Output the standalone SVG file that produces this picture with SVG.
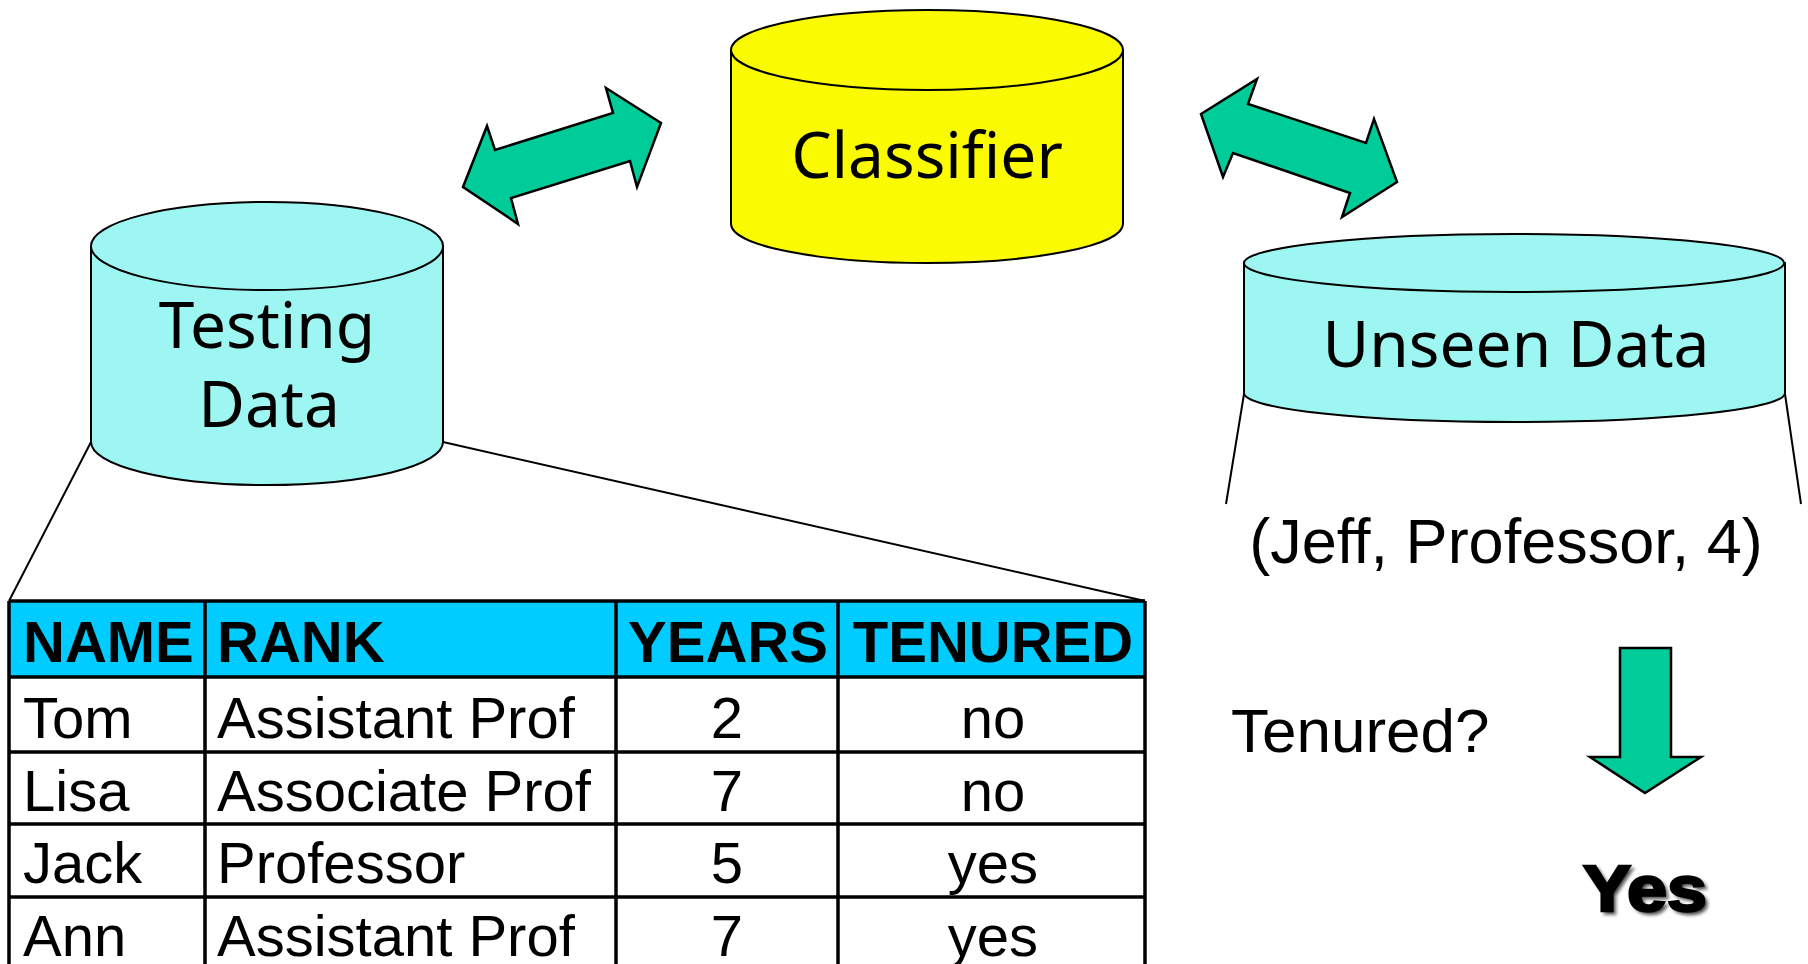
<svg xmlns="http://www.w3.org/2000/svg" width="1808" height="964" viewBox="0 0 1808 964">
  <style>
    .cyl-side { stroke: #000; stroke-width: 2; }
    .cyl-top { stroke: #000; stroke-width: 2; }
    .aqua { fill: #9EF6F2; }
    .yellow { fill: #FAFA00; }
    .label { font-family: "Noto Sans", "DejaVu Sans", sans-serif; font-size: 64px; fill: #000; text-anchor: middle; }
    .arrow { fill: #00CC99; stroke: #000; stroke-width: 2.5; stroke-linejoin: miter; }
    .thin { stroke: #000; stroke-width: 2; fill: none; }
    .grid { stroke: #000; stroke-width: 3.5; fill: none; }
    .th { font-family: "Liberation Sans", Arial, sans-serif; font-weight: bold; font-size: 58px; fill: #000; }
    .td { font-family: "Liberation Sans", Arial, sans-serif; font-size: 58px; fill: #000; }
    .mid { text-anchor: middle; }
    .plain { font-family: "Liberation Sans", Arial, sans-serif; fill: #000; }
  </style>
  <defs>
    <filter id="soft" x="-10%" y="-10%" width="130%" height="130%">
      <feGaussianBlur stdDeviation="1.5"/>
    </filter>
  </defs>

  <rect width="1808" height="964" fill="#fff"/>

  <!-- connectors: double arrows, zoom-in lines, result arrow -->
  <g id="connectors">
    <polygon class="arrow" points="463,187 487,126 495,150 613,113 606,88 661,123 637,187 630,161 511,198 518,224"/>
    <polygon class="arrow" points="1201,114 1257,79 1248,104 1366,143 1374,119 1397,182 1342,217 1350,193 1233,153 1223,177"/>
    <line class="thin" x1="91" y1="442" x2="9" y2="601"/>
    <line class="thin" x1="443" y1="442" x2="1145" y2="601"/>
    <line class="thin" x1="1244" y1="394" x2="1226" y2="504"/>
    <line class="thin" x1="1785" y1="394" x2="1801" y2="504"/>
    <polygon class="arrow" points="1620,648 1671,648 1671,757 1701,757 1645,793 1590,757 1620,757"/>
  </g>

  <!-- Classifier cylinder -->
  <g id="classifier">
    <path class="cyl-side yellow" d="M731,50 L731,224 A196,39 0 0 0 1123,224 L1123,50 Z"/>
    <ellipse class="cyl-top yellow" cx="927" cy="50" rx="196" ry="40"/>
    <text class="label" x="927" y="178" font-size="66">Classifier</text>
  </g>

  <!-- Testing Data cylinder -->
  <g id="testing-data">
    <path class="cyl-side aqua" d="M91,246 L91,442 A176,43 0 0 0 443,442 L443,246 Z"/>
    <ellipse class="cyl-top aqua" cx="267" cy="246" rx="176" ry="44"/>
    <text class="label" x="267" y="348">Testing</text>
    <text class="label" x="269" y="427">Data</text>
  </g>

  <!-- Unseen Data cylinder -->
  <g id="unseen-data">
    <path class="cyl-side aqua" d="M1244,263 L1244,393 A270,29 0 0 0 1785,393 L1785,263 Z"/>
    <ellipse class="cyl-top aqua" cx="1514" cy="263" rx="270" ry="29"/>
    <text class="label" x="1516" y="367" font-size="63">Unseen Data</text>
  </g>

  <!-- unseen tuple -->
  <g id="tuple">
    <text class="plain" x="1506" y="563" font-size="63" text-anchor="middle">(Jeff, Professor, 4)</text>
  </g>

  <!-- question and answer -->
  <g id="question">
    <text class="plain" x="1231" y="752" font-size="62">Tenured?</text>
  </g>
  <g id="answer">
    <text class="plain" x="1648" y="914" font-size="64" font-weight="bold" text-anchor="middle" fill="#888" stroke="#888" stroke-width="2.5" filter="url(#soft)" textLength="124" lengthAdjust="spacingAndGlyphs">Yes</text>
    <text class="plain" x="1645" y="911" font-size="64" font-weight="bold" text-anchor="middle" stroke="#000" stroke-width="2.5" textLength="124" lengthAdjust="spacingAndGlyphs">Yes</text>
  </g>

  <!-- testing data table -->
  <g id="table">
    <rect x="9" y="601" width="1136" height="76" fill="#00CCFF"/>
    <rect x="9" y="677" width="1136" height="300" fill="#fff"/>
    <path class="grid" d="M9,601 H1145 M9,677 H1145 M9,752 H1145 M9,824 H1145 M9,897 H1145
                          M9,601 V964 M205,601 V964 M616,601 V964 M838,601 V964 M1145,601 V964"/>
    <text class="th" x="23" y="662">NAME</text>
    <text class="th" x="217" y="662">RANK</text>
    <text class="th mid" x="728" y="662">YEARS</text>
    <text class="th mid" x="993" y="662">TENURED</text>

    <text class="td" x="23" y="738">Tom</text>
    <text class="td" x="217" y="738">Assistant Prof</text>
    <text class="td mid" x="727" y="738">2</text>
    <text class="td mid" x="993" y="738">no</text>

    <text class="td" x="23" y="811">Lisa</text>
    <text class="td" x="217" y="811">Associate Prof</text>
    <text class="td mid" x="727" y="811">7</text>
    <text class="td mid" x="993" y="811">no</text>

    <text class="td" x="23" y="883">Jack</text>
    <text class="td" x="217" y="883">Professor</text>
    <text class="td mid" x="727" y="883">5</text>
    <text class="td mid" x="993" y="883">yes</text>

    <text class="td" x="23" y="956">Ann</text>
    <text class="td" x="217" y="956">Assistant Prof</text>
    <text class="td mid" x="727" y="956">7</text>
    <text class="td mid" x="993" y="956">yes</text>
  </g>
</svg>
